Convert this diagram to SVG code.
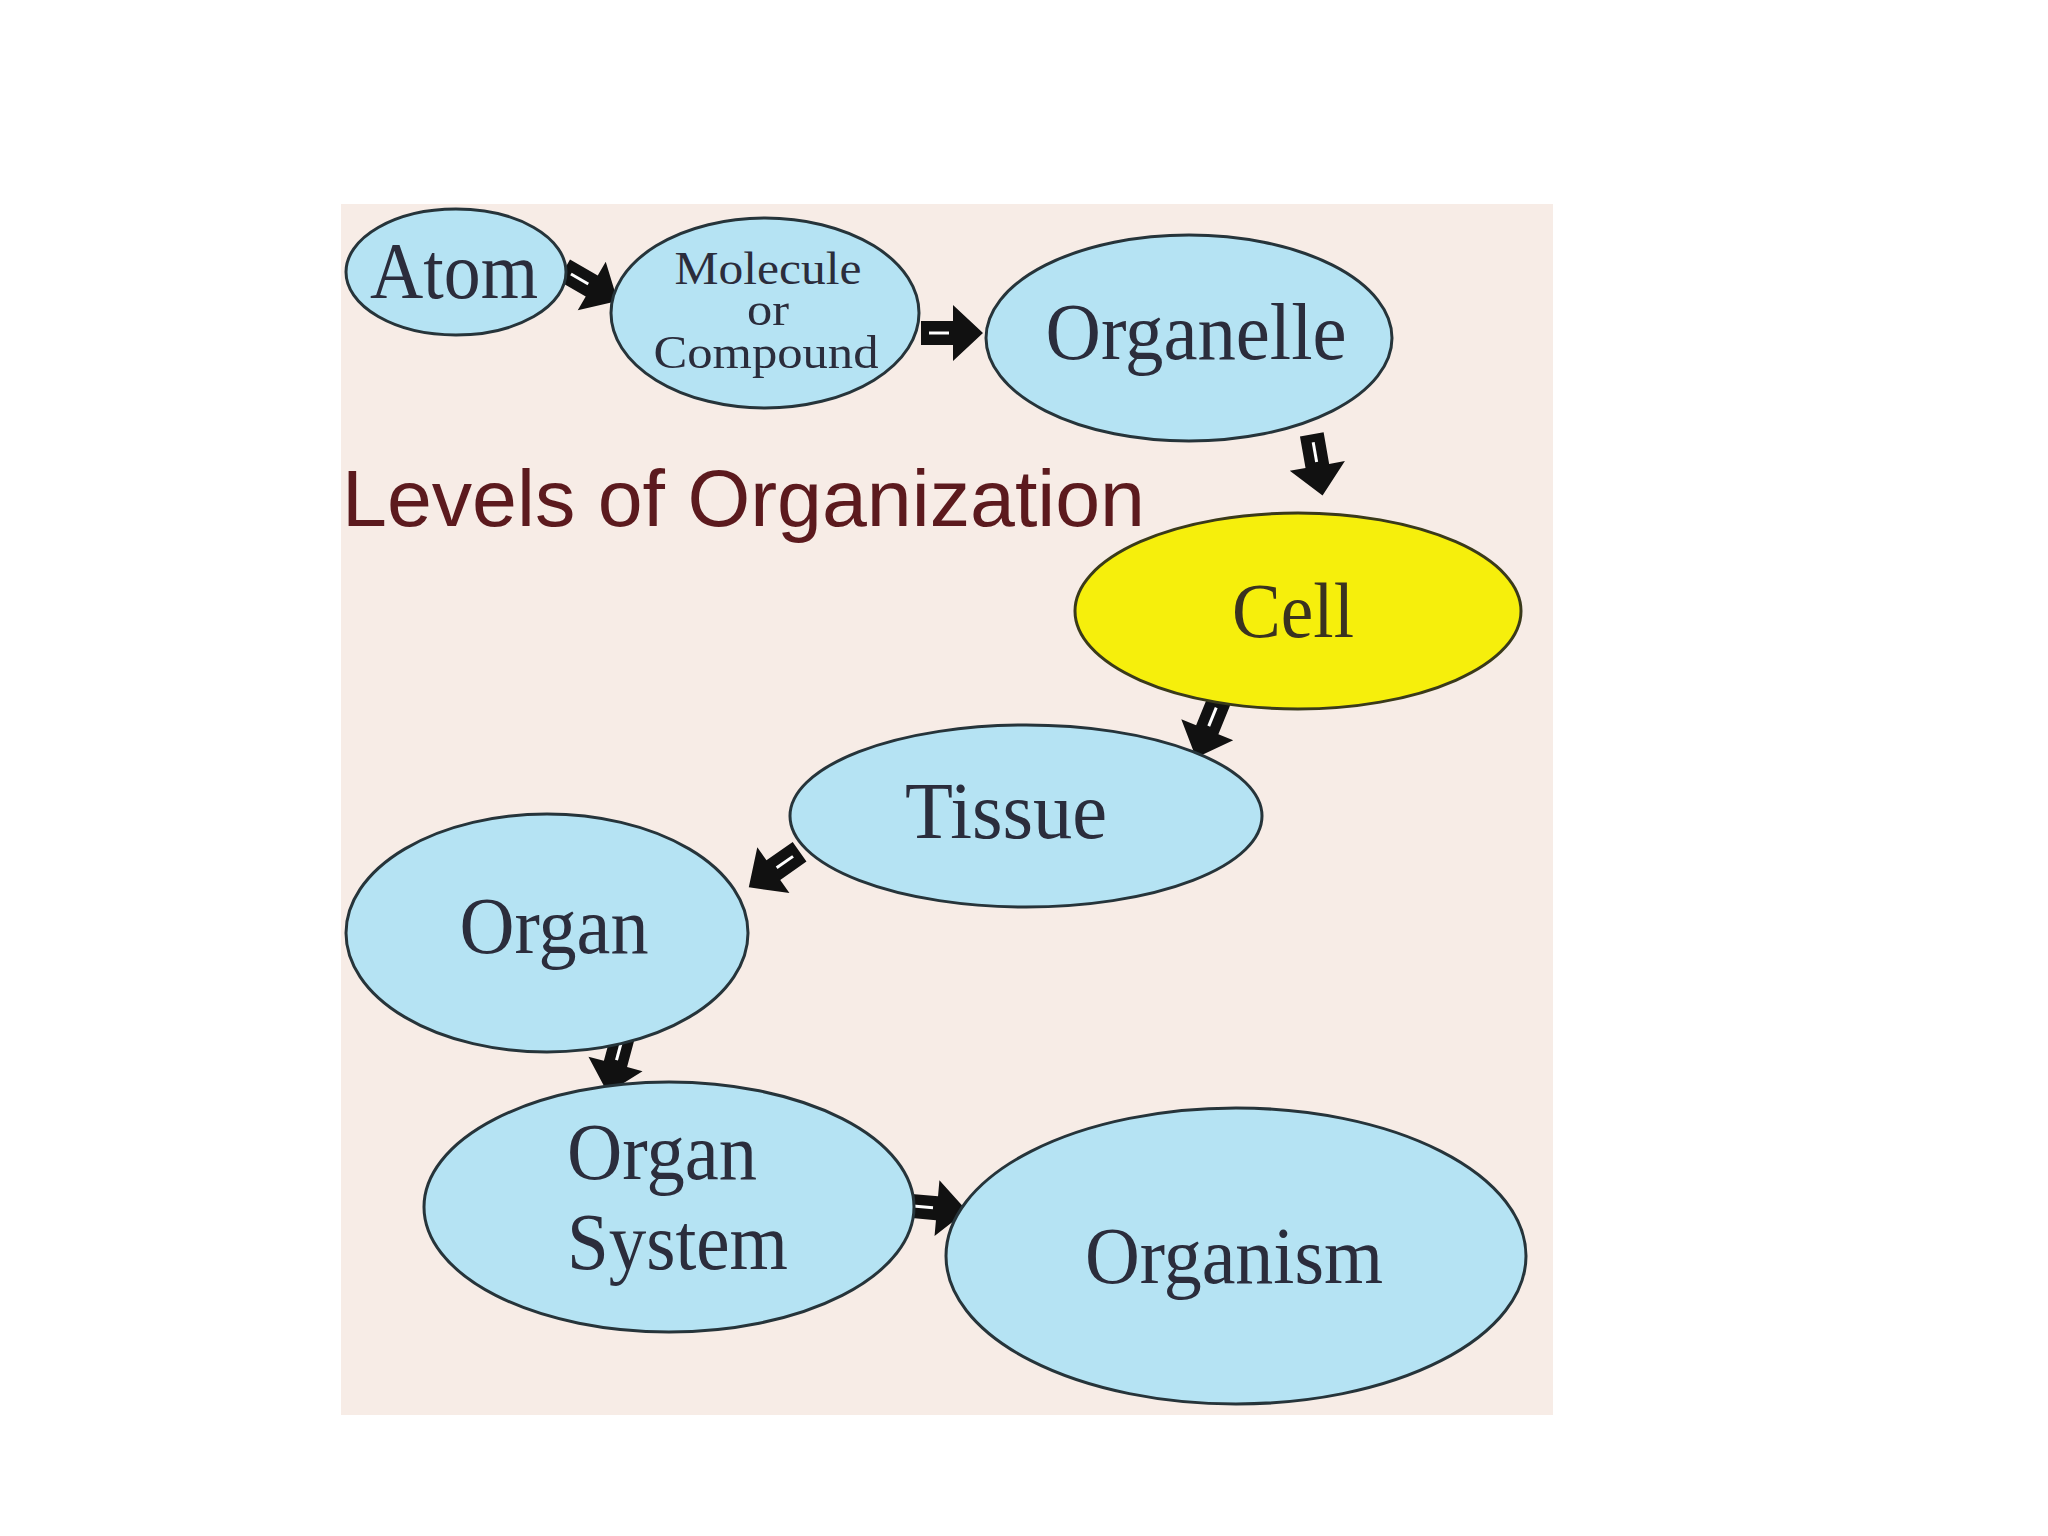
<svg xmlns="http://www.w3.org/2000/svg" width="2048" height="1536" viewBox="0 0 2048 1536">
<style>
.node{fill:#b5e3f3;stroke:#26343a;stroke-width:3}
.cell{fill:#f6ef0c;stroke:#3a3a1a;stroke-width:3}
.lbl{font-family:"Liberation Serif","Times New Roman",serif;fill:#2b2d3c;text-anchor:middle}
.title{font-family:"Liberation Sans",Arial,sans-serif;fill:#5c1a1e;font-size:80px}
</style>
<defs>
<g id="arrow">
<path d="M -30,-12 L 2,-12 L 2,-28 L 32,0 L 2,28 L 2,12 L -30,12 Z" fill="#111"/>
<line x1="-22" y1="0" x2="-2" y2="0" stroke="#fff" stroke-width="3"/>
</g>
</defs>
<rect x="0" y="0" width="2048" height="1536" fill="#ffffff"/>
<rect x="341" y="204" width="1212" height="1211" fill="#f7ece6"/>
<text class="title" x="342" y="526" textLength="803" lengthAdjust="spacingAndGlyphs">Levels of Organization</text>
<g id="connectors">
<use href="#arrow" transform="translate(590,285) rotate(30)"/>
<use href="#arrow" transform="translate(951,333)"/>
<use href="#arrow" transform="translate(1317,464) rotate(80)"/>
<use href="#arrow" transform="translate(1208,728) rotate(112)"/>
<use href="#arrow" transform="translate(775,869) rotate(145)"/>
<use href="#arrow" transform="translate(616,1062) rotate(105)"/>
<use href="#arrow" transform="translate(935,1208) rotate(5)"/>
</g>
<g id="atom">
<ellipse class="node" cx="456" cy="272" rx="110" ry="63"/>
<text class="lbl" x="454" y="298" font-size="80" textLength="168" lengthAdjust="spacingAndGlyphs">Atom</text>
</g>
<g id="molecule">
<ellipse class="node" cx="765" cy="313" rx="154" ry="95"/>
<text class="lbl" x="768" y="284" font-size="46" textLength="187" lengthAdjust="spacingAndGlyphs">Molecule</text>
<text class="lbl" x="768" y="325" font-size="46" textLength="42" lengthAdjust="spacingAndGlyphs">or</text>
<text class="lbl" x="766" y="368" font-size="46" textLength="225" lengthAdjust="spacingAndGlyphs">Compound</text>
</g>
<g id="organelle">
<ellipse class="node" cx="1189" cy="338" rx="203" ry="103"/>
<text class="lbl" x="1196" y="359" font-size="80" textLength="301" lengthAdjust="spacingAndGlyphs">Organelle</text>
</g>
<g id="cell">
<ellipse class="cell" cx="1298" cy="611" rx="223" ry="98"/>
<text class="lbl" x="1293" y="637" font-size="78" textLength="122" lengthAdjust="spacingAndGlyphs" style="fill:#3a3320">Cell</text>
</g>
<g id="tissue">
<ellipse class="node" cx="1026" cy="816" rx="236" ry="91"/>
<text class="lbl" x="1006" y="838" font-size="80" textLength="202" lengthAdjust="spacingAndGlyphs">Tissue</text>
</g>
<g id="organ">
<ellipse class="node" cx="547" cy="933" rx="201" ry="119"/>
<text class="lbl" x="554" y="953" font-size="80" textLength="189" lengthAdjust="spacingAndGlyphs">Organ</text>
</g>
<g id="organ-system">
<ellipse class="node" cx="669" cy="1207" rx="245" ry="125"/>
<text class="lbl" x="567" y="1179" font-size="80" textLength="190" lengthAdjust="spacingAndGlyphs" style="text-anchor:start">Organ</text>
<text class="lbl" x="567" y="1269" font-size="80" textLength="221" lengthAdjust="spacingAndGlyphs" style="text-anchor:start">System</text>
</g>
<g id="organism">
<ellipse class="node" cx="1236" cy="1256" rx="290" ry="148"/>
<text class="lbl" x="1234" y="1283" font-size="80" textLength="298" lengthAdjust="spacingAndGlyphs">Organism</text>
</g>
</svg>
